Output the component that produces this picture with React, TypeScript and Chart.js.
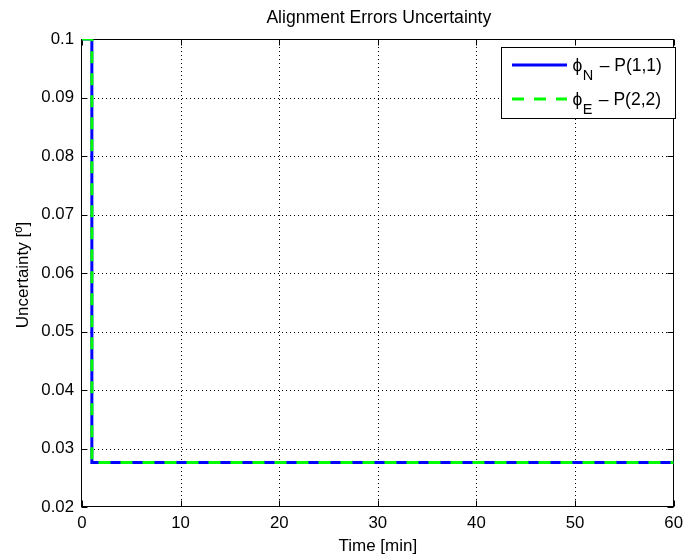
import React, { useEffect, useRef } from "react";
import { Chart, registerables } from "chart.js";

Chart.register(...registerables);

// ---- data ----
const timeMin = [0, 1, 1, 60];
const phiN = [0.1, 0.1, 0.0276, 0.0276];
const phiE = [0.1, 0.1, 0.0276, 0.0276];
const xTicks = [0, 10, 20, 30, 40, 50, 60];
const yTicks = [0.02, 0.03, 0.04, 0.05, 0.06, 0.07, 0.08, 0.09, 0.1];
const titleText = "Alignment Errors Uncertainty";
const xLabelText = "Time [min]";
const yLabelText = "Uncertainty [º]";
const legendSym = ["ϕ", "ϕ"];
const legendSub = ["N", "E"];
const legendRest = [" – P(1,1)", " – P(2,2)"];
const seriesColors = ["#0000ff", "#00ff00"];

const FONT = '"Liberation Sans", Arial, Helvetica, sans-serif';

const matlabPlugin = {
  id: "matlabDecor",
  beforeDatasetsDraw(chart: any) {
    const { ctx, chartArea: a, scales } = chart;
    const x = scales.x;
    const y = scales.y;
    ctx.save();
    // dotted grid
    ctx.strokeStyle = "#000";
    ctx.lineWidth = 1;
    ctx.setLineDash([1, 3]);
    xTicks.forEach((t) => {
      if (t === xTicks[0] || t === xTicks[xTicks.length - 1]) return;
      const px = Math.round(x.getPixelForValue(t)) + 0.5;
      ctx.beginPath();
      ctx.moveTo(px, a.top);
      ctx.lineTo(px, a.bottom);
      ctx.stroke();
    });
    yTicks.forEach((t) => {
      if (t === yTicks[0] || t === yTicks[yTicks.length - 1]) return;
      const py = Math.round(y.getPixelForValue(t)) + 0.5;
      ctx.beginPath();
      ctx.moveTo(a.left, py);
      ctx.lineTo(a.right, py);
      ctx.stroke();
    });
    ctx.setLineDash([]);
    // box
    const L = Math.round(a.left) - 0.5;
    const R = Math.round(a.right) - 0.5;
    const T = Math.round(a.top) + 0.5;
    const B = Math.round(a.bottom) - 0.5;
    ctx.strokeRect(L, T, R - L, B - T);
    // inward ticks
    const tl = 6;
    ctx.beginPath();
    xTicks.forEach((t) => {
      const px = Math.round(x.getPixelForValue(t)) + 0.5;
      ctx.moveTo(px, B);
      ctx.lineTo(px, B - tl);
      ctx.moveTo(px, T);
      ctx.lineTo(px, T + tl);
    });
    yTicks.forEach((t) => {
      const py = Math.round(y.getPixelForValue(t)) + 0.5;
      ctx.moveTo(L, py);
      ctx.lineTo(L + tl, py);
      ctx.moveTo(R, py);
      ctx.lineTo(R - tl, py);
    });
    ctx.stroke();
    ctx.restore();
  },
  afterDatasetsDraw(chart: any) {
    const { ctx, chartArea: a } = chart;
    ctx.save();
    ctx.fillStyle = "#000";
    // title
    ctx.font = `17.6px ${FONT}`;
    ctx.textAlign = "center";
    ctx.textBaseline = "alphabetic";
    ctx.fillText(titleText, (a.left + a.right) / 2 + 1, 22.5);
    // x label
    ctx.font = `17px ${FONT}`;
    ctx.fillText(xLabelText, (a.left + a.right) / 2, 551);
    // y label
    ctx.save();
    ctx.translate(28, (a.top + a.bottom) / 2 + 2);
    ctx.rotate(-Math.PI / 2);
    ctx.fillText(yLabelText, 0, 0);
    ctx.restore();

    // legend
    const bx = 501.5, by = 47.5, bw = 174, bh = 71;
    ctx.fillStyle = "#fff";
    ctx.fillRect(bx, by, bw, bh);
    ctx.strokeStyle = "#000";
    ctx.lineWidth = 1;
    ctx.strokeRect(bx, by, bw, bh);
    const rowsY = [65, 99];
    for (let i = 0; i < 2; i++) {
      const ry = rowsY[i];
      ctx.strokeStyle = seriesColors[i];
      ctx.lineWidth = 3;
      ctx.setLineDash(i === 1 ? [12, 10] : []);
      ctx.beginPath();
      ctx.moveTo(512, ry);
      ctx.lineTo(567, ry);
      ctx.stroke();
      ctx.setLineDash([]);
      ctx.fillStyle = "#000";
      ctx.textAlign = "left";
      ctx.textBaseline = "alphabetic";
      const base = ry + 5.7;
      let tx = 572.5;
      ctx.font = `17.5px ${FONT}`;
      ctx.fillText(legendSym[i], tx, base);
      tx += ctx.measureText(legendSym[i]).width + 0.5;
      ctx.font = `14.5px ${FONT}`;
      ctx.fillText(legendSub[i], tx, base + 9);
      tx += ctx.measureText(legendSub[i]).width + 1.5;
      ctx.font = `17.5px ${FONT}`;
      ctx.fillText(legendRest[i], tx, base);
    }
    ctx.restore();
  },
};

export default function App() {
  const ref = useRef<HTMLCanvasElement | null>(null);
  useEffect(() => {
    if (!ref.current) return;
    const chart = new Chart(ref.current, {
      type: "line",
      data: {
        datasets: [
          {
            label: "phiN",
            data: timeMin.map((t, i) => ({ x: t, y: phiN[i] })),
            borderColor: seriesColors[0],
            borderWidth: 3,
            pointRadius: 0,
            tension: 0,
            fill: false,
            order: 1,
          },
          {
            label: "phiE",
            data: timeMin.map((t, i) => ({ x: t, y: phiE[i] })),
            borderColor: seriesColors[1],
            borderWidth: 3,
            borderDash: [12, 10],
            pointRadius: 0,
            tension: 0,
            fill: false,
            order: 0,
          },
        ],
      },
      options: {
        responsive: false,
        animation: false,
        layout: { padding: { top: 39, right: 12, left: 0, bottom: 0 } },
        plugins: {
          legend: { display: false },
          title: { display: false },
          tooltip: { enabled: false },
        },
        scales: {
          x: {
            type: "linear",
            min: 0,
            max: 60,
            grid: { display: false, drawTicks: false },
            border: { display: false },
            ticks: {
              stepSize: 10,
              color: "#000",
              font: { family: FONT, size: 16.8 },
              padding: 6,
              maxRotation: 0,
            },
            afterFit: (s: any) => {
              s.height = 48;
            },
          },
          y: {
            type: "linear",
            min: 0.02,
            max: 0.1,
            grid: { display: false, drawTicks: false },
            border: { display: false },
            ticks: {
              stepSize: 0.01,
              color: "#000",
              font: { family: FONT, size: 16.8 },
              padding: 8,
              callback: (v: any) => String(+Number(v).toFixed(2)),
            },
            afterFit: (s: any) => {
              s.width = 82;
            },
          },
        },
      },
      plugins: [matlabPlugin],
    });
    return () => chart.destroy();
  }, []);
  return (
    <canvas
      ref={ref}
      width={689}
      height={555}
      style={{ position: "absolute", left: 0, top: 0, display: "block" }}
    />
  );
}
